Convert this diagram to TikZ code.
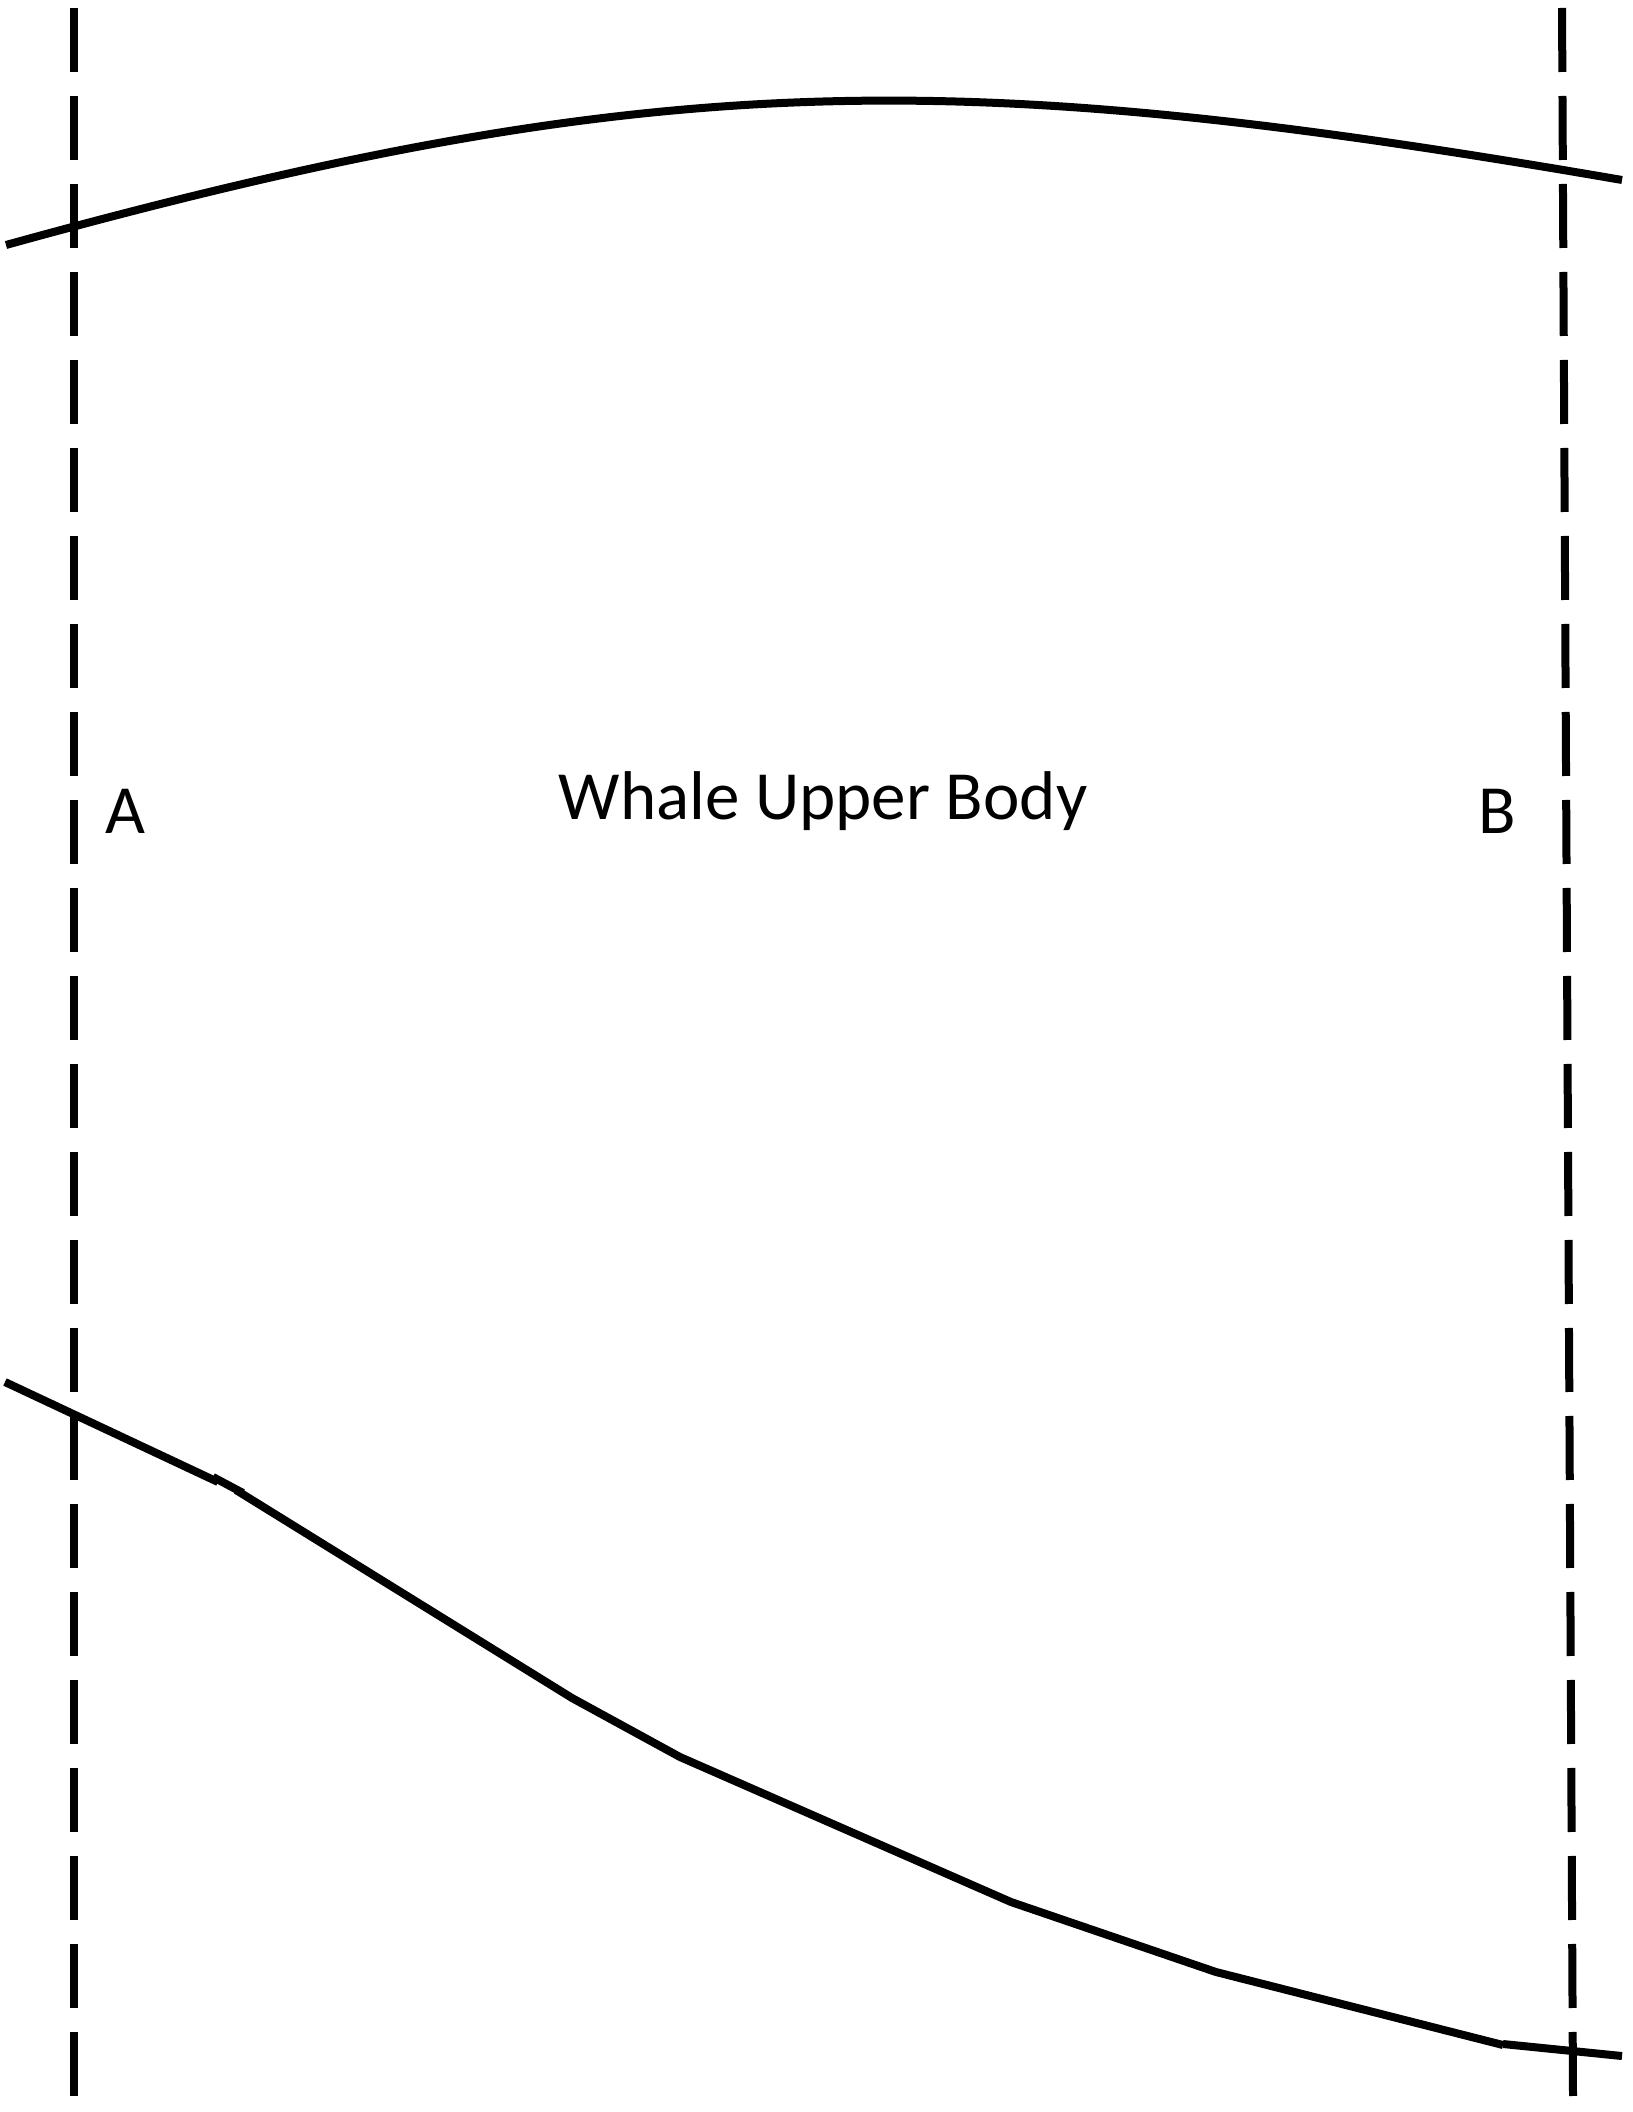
\documentclass[tikz,border=0pt]{standalone}
\usepackage{fontspec}
\setmainfont{Carlito}
\begin{document}
\begin{tikzpicture}[x=0.5pt,y=-0.5pt,
  guide/.style={line width=4pt,dash pattern=on 32pt off 12pt},
  outline/.style={line width=4pt,line join=miter},
  lbl/.style={anchor=base,inner sep=0pt,font=\fontsize{34.5pt}{40pt}\selectfont}]
\useasboundingbox (0,0) rectangle (1632,2112);
% dashed section lines
\coordinate (a1) at (74,8);
\coordinate (a2) at (74,2096);
\coordinate (b1) at (1562,8);
\coordinate (b2) at (1573,2096);
\draw[guide] (a1) -- (a2);
\draw[guide] (b1) -- (b2);
% top outline
\coordinate (t0) at (6,245);
\coordinate (t1) at (1622,180);
\draw[outline] (t0) .. controls (660,64) and (960,66) .. (t1);
% bottom outline
\coordinate (p0) at (5,1382);
\coordinate (p1) at (218,1482);
\coordinate (k0) at (213,1477);
\coordinate (k1) at (243,1493);
\coordinate (q0) at (236,1490);
\coordinate (q1) at (572,1698);
\coordinate (q2) at (680,1757);
\coordinate (q3) at (1011,1902);
\coordinate (q4) at (1216,1972);
\coordinate (q5) at (1503,2045);
\coordinate (r0) at (1503,2044);
\coordinate (r1) at (1622,2056);
\draw[outline] (p0) -- (p1);
\draw[outline] (k0) -- (k1);
\draw[outline] (q0) -- (q1) -- (q2) -- (q3) -- (q4) -- (q5);
\draw[outline] (r0) -- (r1);
% labels
\node[lbl] (title) at (823,819) {Whale Upper Body};
\node[lbl] (A) at (125,833) {A};
\node[lbl] (B) at (1497,833) {B};
\end{tikzpicture}
\end{document}
